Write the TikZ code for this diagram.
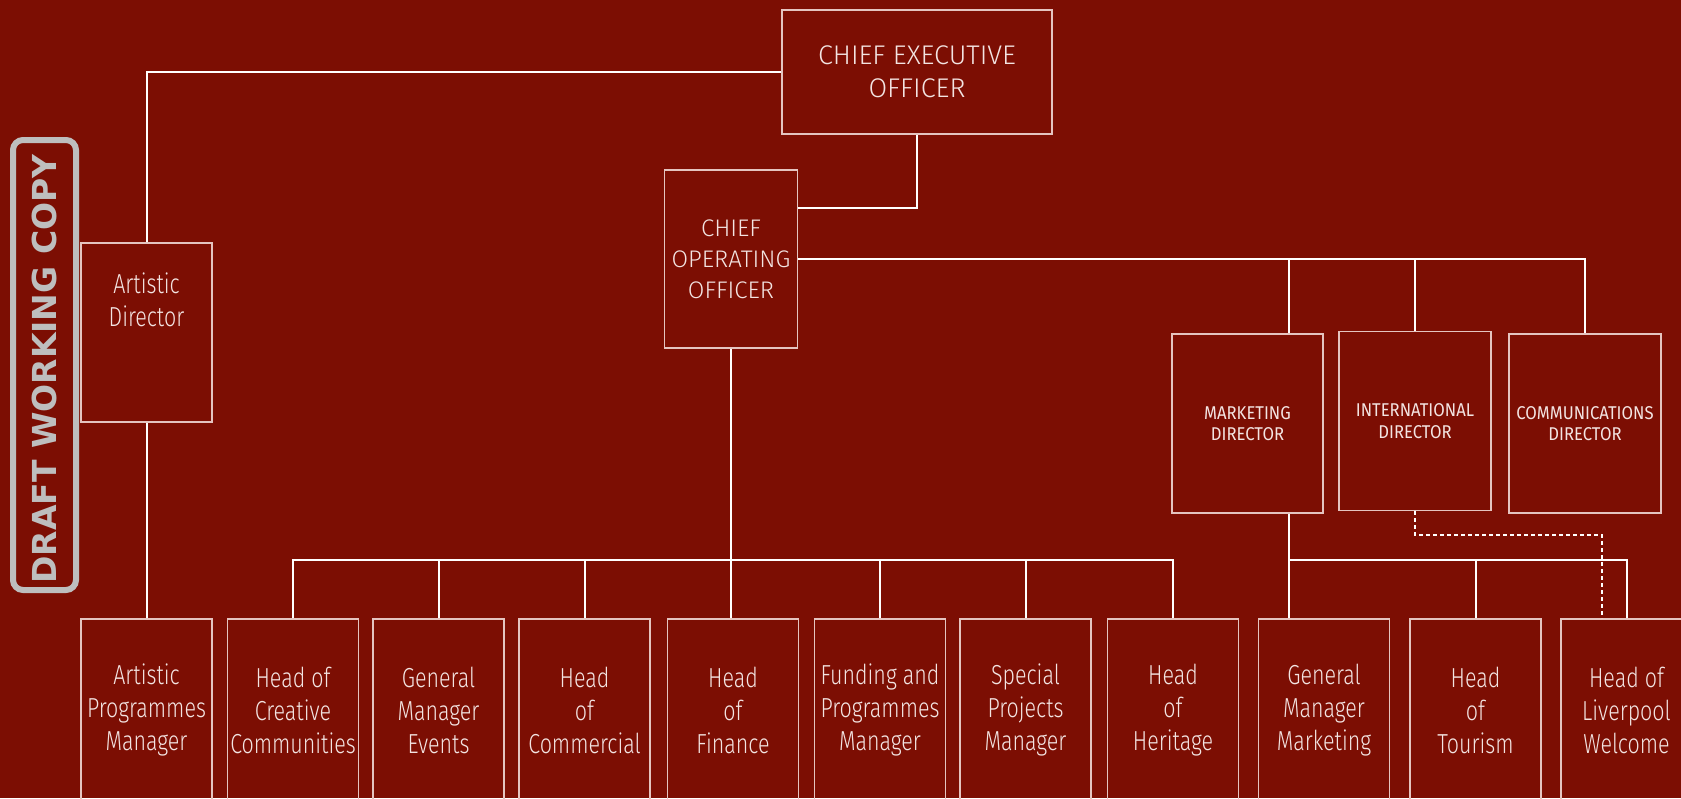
\documentclass[tikz,border=0pt]{standalone}
\usepackage{fontspec}
\setmainfont{Fira Sans Light}[FakeStretch=0.78]
\newfontfamily\capsfont{Fira Sans Light}
\newfontfamily\dirfont{Fira Sans}[FakeStretch=0.9]
\newfontfamily\stampfont{DejaVu Sans}
\definecolor{bgred}{RGB}{124,14,3}
\definecolor{boxline}{RGB}{229,196,192}
\definecolor{txtpink}{RGB}{243,228,226}
\definecolor{stampgrey}{RGB}{190,190,190}
\tikzset{
  box/.style={draw=boxline, line width=1.5pt, text=txtpink, align=center, inner sep=0pt,
    minimum width=131pt, font=\fontsize{27.5}{33}\selectfont},
  post/.style={box, minimum height=182pt},
  dir/.style={box, minimum width=152pt, minimum height=179pt, font=\dirfont\fontsize{18.5}{21.5}\selectfont},
  wire/.style={draw=white, line width=2pt},
  dotwire/.style={draw=white, line width=1.5pt, dash pattern=on 4pt off 3pt},
}
\begin{document}
\begin{tikzpicture}[x=1pt,y=-1pt]
\fill[bgred] (0,0) rectangle (1681,798);
\useasboundingbox (0,0) rectangle (1681,798);
% stamp
\node[draw=stampgrey, line width=6pt, rounded corners=10pt, minimum width=63pt, minimum height=450pt] (stampbox) at (44.5,365) {};
\node[rotate=90, text=stampgrey, font=\stampfont\bfseries\fontsize{33}{33}\selectfont] (stamp) at (44,369) {DRAFT WORKING COPY};
% top
\node[box, minimum width=270pt, minimum height=124pt, font=\capsfont\fontsize{27}{33}\selectfont] (ceo) at (917,72) {CHIEF EXECUTIVE\\OFFICER};
\node[box, minimum width=133pt, minimum height=178pt, font=\capsfont\fontsize{24}{31}\selectfont] (coo) at (731,259) {CHIEF\\OPERATING\\OFFICER};
\node[box, minimum height=179pt] (ad) at (146.5,332.5) {};
\node[text=txtpink, align=center, font=\fontsize{27.5}{33}\selectfont] (adtext) at (146.5,300) {Artistic\\Director};
% directors
\node[dir, minimum width=151pt] (md) at (1247.5,423.5) {MARKETING\\DIRECTOR};
\node[dir] (id) at (1415,421) {INTERNATIONAL\\DIRECTOR};
\node[dir] (cd) at (1585,423.5) {COMMUNICATIONS\\DIRECTOR};
% bottom row
\node[post] (apm) at (146.5,710) {Artistic\\Programmes\\Manager};
\node[post] (hcc) at (293,710) {Head of\\Creative\\Communities};
\node[post] (gme) at (438.5,710) {General\\Manager\\Events};
\node[post] (hc) at (584.5,710) {Head\\of\\Commercial};
\node[post] (hf) at (733,710) {Head\\of\\Finance};
\node[post] (fpm) at (880,710) {Funding and\\Programmes\\Manager};
\node[post] (spm) at (1025.5,710) {Special\\Projects\\Manager};
\node[post] (hh) at (1173,710) {Head\\of\\Heritage};
\node[post] (gmm) at (1324,710) {General\\Manager\\Marketing};
\node[post] (ht) at (1475.5,710) {Head\\of\\Tourism};
\node[post] (hlw) at (1626.5,710) {Head of\\Liverpool\\Welcome};
% connectors
\coordinate (ceoknee) at (917,208);
\coordinate (mdx) at (1289,423.5);
\coordinate (cbus) at (733,560);
\coordinate (mbus) at (1289,560);
\coordinate (dashx) at (1602,535);
\draw[wire] (ceo.west) -| (ad.north);
\draw[wire] (ceo.south) -- (ceoknee) -- (ceoknee -| coo.east);
\draw[wire] (ad.south) -- (apm.north);
\draw[wire] (coo.east) -| (cd.north);
\draw[wire] (mdx |- coo.east) -- (mdx |- md.north);
\draw[wire] (id.north) -- (id.north |- coo.east);
\draw[wire] (coo.south) -- (coo.south |- hf.north);
\draw[wire] (hcc.north) |- (cbus) -| (hh.north);
\foreach \n in {gme,hc,fpm,spm}
  \draw[wire] (\n.north) -- (\n.north |- cbus);
\draw[wire] (mdx |- md.south) -- (mdx |- gmm.north);
\draw[wire] (mbus) -| (hlw.north);
\draw[wire] (ht.north) -- (ht.north |- mbus);
\draw[dotwire] (id.south) |- (dashx) -- (dashx |- hlw.north);
\end{tikzpicture}
\end{document}
